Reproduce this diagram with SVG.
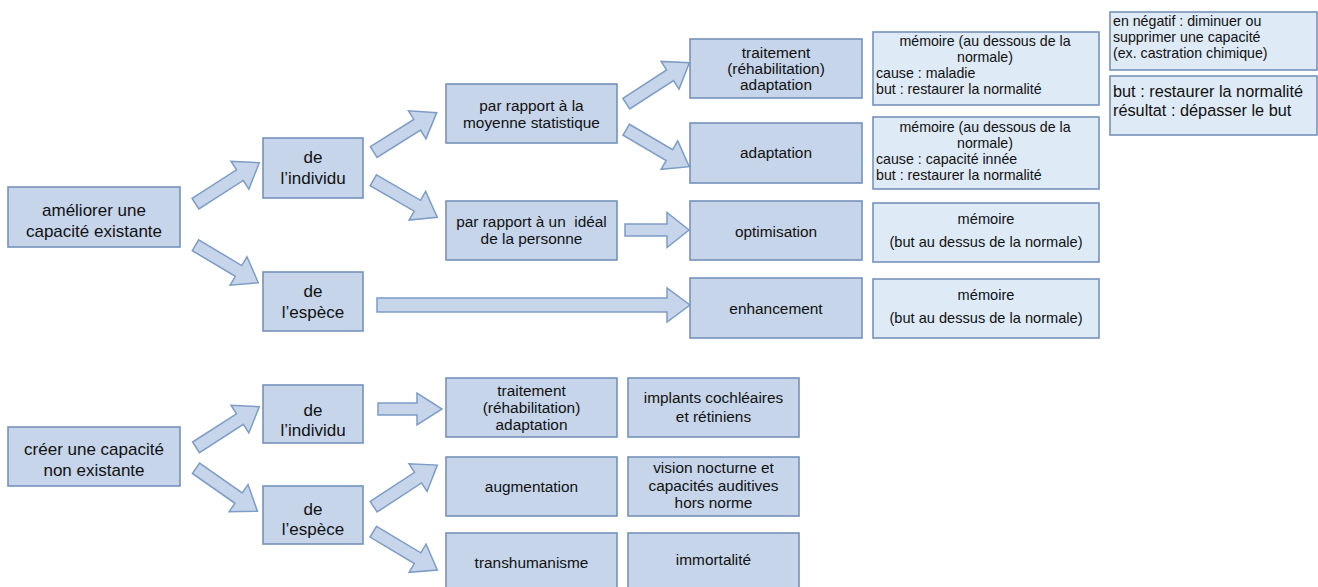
<svg xmlns="http://www.w3.org/2000/svg" width="1318" height="587" viewBox="0 0 1318 587">
<style>
  .bx{fill:#c6d5ea;stroke:#7592bb;stroke-width:1.6}
  .lt{fill:#deeaf6;stroke:#7592bb;stroke-width:1.6}
  .ar{fill:#c6d5ea;stroke:#7d9cc6;stroke-width:1.5;stroke-linejoin:miter}
  text{font-family:"Liberation Sans",Arial,sans-serif;fill:#111}
  .big{font-size:17px;text-anchor:middle}
  .mid{font-size:15.4px;text-anchor:middle}
  .sm{font-size:14.2px}
  .s2{font-size:14.6px}
  .c{text-anchor:middle}
</style>
<rect width="1318" height="587" fill="#ffffff"/>

<g id="connectors">
  <polygon class="ar" transform="translate(195.5,203.7) rotate(-32.7)" points="0,-6.3 52.8,-6.3 52.8,-16.5 75.8,0 52.8,16.5 52.8,6.3 0,6.3"/>
  <polygon class="ar" transform="translate(195.5,245.3) rotate(30.8)" points="0,-6.3 50.1,-6.3 50.1,-16.5 73.1,0 50.1,16.5 50.1,6.3 0,6.3"/>
  <polygon class="ar" transform="translate(373.7,152) rotate(-32)" points="0,-6.3 51.3,-6.3 51.3,-16.5 74.3,0 51.3,16.5 51.3,6.3 0,6.3"/>
  <polygon class="ar" transform="translate(373.3,180.3) rotate(30)" points="0,-6.3 50.9,-6.3 50.9,-16.5 73.9,0 50.9,16.5 50.9,6.3 0,6.3"/>
  <polygon class="ar" transform="translate(626.3,103.7) rotate(-33)" points="0,-6.3 52.2,-6.3 52.2,-16.5 75.2,0 52.2,16.5 52.2,6.3 0,6.3"/>
  <polygon class="ar" transform="translate(626.2,129.7) rotate(30.4)" points="0,-6.3 50.1,-6.3 50.1,-16.5 73.1,0 50.1,16.5 50.1,6.3 0,6.3"/>
  <polygon class="ar" points="625,224 667,224 667,212.5 689,230 667,247.5 667,236 625,236"/>
  <polygon class="ar" points="377,298 667,298 667,288 690,305 667,322 667,312 377,312"/>
  <polygon class="ar" transform="translate(196,447.3) rotate(-32.7)" points="0,-6.3 52.2,-6.3 52.2,-16.5 75.2,0 52.2,16.5 52.2,6.3 0,6.3"/>
  <polygon class="ar" transform="translate(196,468.3) rotate(35)" points="0,-6.3 52,-6.3 52,-16.5 75,0 52,16.5 52,6.3 0,6.3"/>
  <polygon class="ar" points="378,403 417,403 417,393 442,409 417,425 417,415 378,415"/>
  <polygon class="ar" transform="translate(373.7,506.7) rotate(-33.2)" points="0,-6.3 53,-6.3 53,-16.5 76,0 53,16.5 53,6.3 0,6.3"/>
  <polygon class="ar" transform="translate(373.3,531.7) rotate(30.9)" points="0,-6.3 51.6,-6.3 51.6,-16.5 74.6,0 51.6,16.5 51.6,6.3 0,6.3"/>
</g>

<g id="n-ameliorer">
  <rect class="bx" x="8" y="187" width="172" height="60"/>
  <text class="big" x="94" y="216">améliorer une</text>
  <text class="big" x="94" y="237">capacité existante</text>
</g>
<g id="n-individu1">
  <rect class="bx" x="263" y="138" width="100" height="60"/>
  <text class="big" x="313" y="163">de</text>
  <text class="big" x="313" y="184">l’individu</text>
</g>
<g id="n-espece1">
  <rect class="bx" x="263" y="272" width="100" height="59"/>
  <text class="big" x="313" y="297">de</text>
  <text class="big" x="313" y="318">l’espèce</text>
</g>
<g id="n-moyenne">
  <rect class="bx" x="446" y="84" width="171" height="59"/>
  <text class="mid" x="531.5" y="110.5">par rapport à la</text>
  <text class="mid" x="531.5" y="127.5">moyenne statistique</text>
</g>
<g id="n-ideal">
  <rect class="bx" x="446" y="201" width="171" height="59"/>
  <text class="mid" x="531.5" y="227" style="white-space:pre">par rapport à un  idéal</text>
  <text class="mid" x="531.5" y="243.5">de la personne</text>
</g>
<g id="n-traitement1">
  <rect class="bx" x="690" y="39" width="172" height="59"/>
  <text class="mid" x="776" y="58">traitement</text>
  <text class="mid" x="776" y="74">(réhabilitation)</text>
  <text class="mid" x="776" y="90">adaptation</text>
</g>
<g id="n-adaptation">
  <rect class="bx" x="690" y="123" width="172" height="60"/>
  <text class="mid" x="776" y="158">adaptation</text>
</g>
<g id="n-optimisation">
  <rect class="bx" x="690" y="201" width="172" height="59"/>
  <text class="mid" x="776" y="236.5">optimisation</text>
</g>
<g id="n-enhancement">
  <rect class="bx" x="690" y="278" width="172" height="60"/>
  <text class="mid" x="776" y="314">enhancement</text>
</g>

<g id="n-memoire1">
  <rect class="lt" x="873" y="32" width="226" height="73"/>
  <text class="sm c" x="985" y="46">mémoire (au dessous de la</text>
  <text class="sm c" x="985" y="62">normale)</text>
  <text class="sm" x="876" y="78">cause : maladie</text>
  <text class="sm" x="876" y="94">but : restaurer la normalité</text>
</g>
<g id="n-memoire2">
  <rect class="lt" x="873" y="117" width="226" height="72"/>
  <text class="sm c" x="985" y="131.5">mémoire (au dessous de la</text>
  <text class="sm c" x="985" y="147.5">normale)</text>
  <text class="sm" x="876" y="163.5">cause : capacité innée</text>
  <text class="sm" x="876" y="179.5">but : restaurer la normalité</text>
</g>
<g id="n-memoire3">
  <rect class="lt" x="873" y="203" width="226" height="59"/>
  <text class="s2 c" x="986" y="224">mémoire</text>
  <text class="s2 c" x="986" y="247">(but au dessus de la normale)</text>
</g>
<g id="n-memoire4">
  <rect class="lt" x="873" y="279" width="226" height="59"/>
  <text class="s2 c" x="986" y="300">mémoire</text>
  <text class="s2 c" x="986" y="323">(but au dessus de la normale)</text>
</g>
<g id="n-negatif">
  <rect class="lt" x="1110" y="12" width="207" height="58"/>
  <text class="sm" x="1113" y="26">en négatif : diminuer ou</text>
  <text class="sm" x="1113" y="42">supprimer une capacité</text>
  <text class="sm" x="1113" y="58">(ex. castration chimique)</text>
</g>
<g id="n-but">
  <rect class="lt" x="1110" y="76" width="207" height="59"/>
  <text x="1113" y="97" font-size="16.3">but : restaurer la normalité</text>
  <text x="1113" y="116" font-size="16.3">résultat : dépasser le but</text>
</g>

<g id="n-creer">
  <rect class="bx" x="8" y="427" width="172" height="59"/>
  <text class="big" x="94" y="455">créer une capacité</text>
  <text class="big" x="94" y="475.5">non existante</text>
</g>
<g id="n-individu2">
  <rect class="bx" x="263" y="385" width="100" height="58"/>
  <text class="big" x="313" y="416">de</text>
  <text class="big" x="313" y="436">l’individu</text>
</g>
<g id="n-espece2">
  <rect class="bx" x="263" y="486" width="100" height="58"/>
  <text class="big" x="313" y="514.5">de</text>
  <text class="big" x="313" y="534.5">l’espèce</text>
</g>
<g id="n-traitement2">
  <rect class="bx" x="446" y="378" width="171" height="59"/>
  <text class="mid" x="531.5" y="396">traitement</text>
  <text class="mid" x="531.5" y="413">(réhabilitation)</text>
  <text class="mid" x="531.5" y="430">adaptation</text>
</g>
<g id="n-augmentation">
  <rect class="bx" x="446" y="457" width="171" height="59"/>
  <text class="mid" x="531.5" y="491.5">augmentation</text>
</g>
<g id="n-transhumanisme">
  <rect class="bx" x="446" y="533" width="171" height="60"/>
  <text class="mid" x="531.5" y="568">transhumanisme</text>
</g>
<g id="n-implants">
  <rect class="bx" x="628" y="378" width="171" height="59"/>
  <text class="mid" x="713.5" y="403">implants cochléaires</text>
  <text class="mid" x="713.5" y="421.5">et rétiniens</text>
</g>
<g id="n-vision">
  <rect class="bx" x="628" y="457" width="171" height="59"/>
  <text class="mid" x="713.5" y="473">vision nocturne et</text>
  <text class="mid" x="713.5" y="490.5">capacités auditives</text>
  <text class="mid" x="713.5" y="508">hors norme</text>
</g>
<g id="n-immortalite">
  <rect class="bx" x="628" y="533" width="171" height="60"/>
  <text class="mid" x="713.5" y="565">immortalité</text>
</g>
</svg>
